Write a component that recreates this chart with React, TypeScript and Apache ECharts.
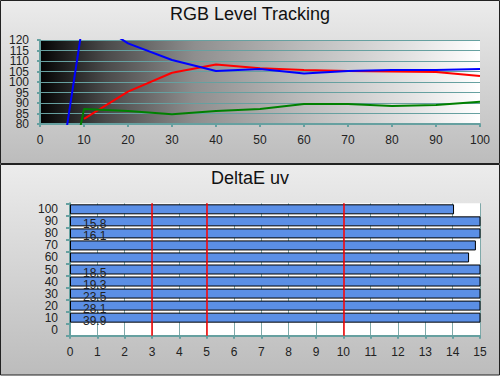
import React, { useEffect, useRef } from 'react';
import * as echarts from 'echarts';

// RGB Level Tracking data
const rgbX = [0, 10, 20, 30, 40, 50, 60, 70, 80, 90, 100];
const redVals = [null, 82.4, 95.4, 104.4, 108.3, 106.5, 105.7, 105.2, 105.0, 104.8, 102.9];
const greenVals = [-15, 87.1, 86.2, 84.6, 86.2, 87.1, 89.5, 89.5, 88.6, 89.0, 90.6];
const blueVals = [-5, 132, 118.4, 110.5, 105.2, 106.2, 104.1, 105.2, 105.7, 105.7, 106.2];
const rgbTicksEven = [80, 90, 100, 110, 120];
const rgbTicksOdd = [85, 95, 105, 115];

// DeltaE uv data
const deltaCats = ['0', '10', '20', '30', '40', '50', '60', '70', '80', '90', '100'];
const deltaVals = [null, 39.9, 28.1, 23.5, 19.3, 18.5, 14.6, 14.85, 16.1, 15.8, 14.05];
const refLines = [3, 5, 10];

const TEAL = '#66a0a0';
const FONT = '"Liberation Sans", Arial, sans-serif';

export default function App() {
  const ref = useRef<HTMLDivElement>(null);
  useEffect(() => {
    document.body.style.margin = '0';
    const chart = echarts.init(ref.current!, null, { renderer: 'svg' });
    const pair = (vals: (number | null)[]) => rgbX.map((x, i) => [x, vals[i] === null ? '-' : vals[i]]);
    const panelGrad = () =>
      new echarts.graphic.LinearGradient(0, 0, 0, 1, [
        { offset: 0, color: '#ececec' },
        { offset: 1, color: '#bcbcbc' },
      ]);
    const topYLabel = { fontSize: 12, lineHeight: 10, color: '#222', margin: 11, fontFamily: FONT, showMinLabel: true, showMaxLabel: true, hideOverlap: false };
    chart.setOption({
      animation: false,
      textStyle: { fontFamily: FONT },
      graphic: [
        { type: 'rect', z: -10, shape: { x: 0.5, y: 0.5, width: 499, height: 163 }, style: { fill: panelGrad(), stroke: '#222', lineWidth: 1 } },
        { type: 'rect', z: -10, shape: { x: 0.5, y: 164.5, width: 499, height: 210.5 }, style: { fill: panelGrad(), stroke: '#222', lineWidth: 1 } },
        { type: 'text', x: 250, y: 14, style: { text: 'RGB Level Tracking', fontSize: 18, fontFamily: FONT, fill: '#111', align: 'center', verticalAlign: 'middle' } },
        { type: 'text', x: 250, y: 178, style: { text: 'DeltaE uv', fontSize: 18, fontFamily: FONT, fill: '#111', align: 'center', verticalAlign: 'middle' } },
      ],
      grid: [
        {
          left: 40, top: 40, width: 440, height: 84, show: true, borderWidth: 0,
          backgroundColor: new echarts.graphic.LinearGradient(0, 0, 1, 0, [
            { offset: 0, color: '#030303' },
            { offset: 0.15, color: '#4a4a4a' },
            { offset: 0.35, color: '#8e8e8e' },
            { offset: 0.6, color: '#bcbcbc' },
            { offset: 0.85, color: '#e4e4e4' },
            { offset: 1, color: '#ffffff' },
          ]),
        },
        { left: 70, top: 203.3, width: 410, height: 132.4, show: true, borderWidth: 0, backgroundColor: '#ffffff' },
      ],
      xAxis: [
        {
          gridIndex: 0, type: 'value', min: 0, max: 100, interval: 10,
          axisLine: { show: true, lineStyle: { color: TEAL, width: 2 } },
          axisTick: { show: true, length: 3, lineStyle: { color: TEAL, width: 2 } },
          axisLabel: { fontSize: 12, color: '#222', margin: 10, fontFamily: FONT },
          splitLine: { show: false },
        },
        {
          gridIndex: 1, type: 'value', min: 0, max: 15, interval: 1,
          axisLine: { show: true, lineStyle: { color: TEAL, width: 2 } },
          axisTick: { show: true, length: 3, lineStyle: { color: TEAL, width: 2 } },
          axisLabel: { fontSize: 12, color: '#222', margin: 10, fontFamily: FONT },
          splitLine: { show: true, lineStyle: { color: '#7fa9a9', width: 1 } },
        },
      ],
      yAxis: [
        {
          gridIndex: 0, type: 'value', min: 80, max: 120, interval: 5,
          axisLine: { show: true, lineStyle: { color: TEAL, width: 2 } },
          axisTick: { show: true, length: 3, lineStyle: { color: TEAL, width: 2 } },
          axisLabel: { ...topYLabel, customValues: rgbTicksEven },
          splitLine: { show: true, lineStyle: { color: TEAL, width: 1 } },
        },
        {
          gridIndex: 1, type: 'category', data: deltaCats,
          axisLine: { show: true, lineStyle: { color: TEAL, width: 2 } },
          axisTick: { show: true, length: 4, lineStyle: { color: TEAL, width: 2 } },
          axisLabel: { fontSize: 12, lineHeight: 10, color: '#222', margin: 12, interval: 0, fontFamily: FONT },
          splitLine: { show: false },
        },
        {
          gridIndex: 0, type: 'value', min: 80, max: 120, interval: 5, position: 'left',
          axisLine: { show: false }, axisTick: { show: false }, splitLine: { show: false },
          axisLabel: { ...topYLabel, customValues: rgbTicksOdd },
        },
      ],
      series: [
        { type: 'line', xAxisIndex: 0, yAxisIndex: 0, data: pair(redVals), showSymbol: false, symbol: 'none', lineStyle: { color: '#ff0000', width: 2 }, itemStyle: { color: '#ff0000' } },
        { type: 'line', xAxisIndex: 0, yAxisIndex: 0, data: pair(greenVals), showSymbol: false, symbol: 'none', lineStyle: { color: '#008000', width: 2 }, itemStyle: { color: '#008000' } },
        { type: 'line', xAxisIndex: 0, yAxisIndex: 0, data: pair(blueVals), showSymbol: false, symbol: 'none', lineStyle: { color: '#0000ff', width: 2 }, itemStyle: { color: '#0000ff' } },
        {
          type: 'bar', xAxisIndex: 1, yAxisIndex: 1, barWidth: 10, clip: true,
          data: deltaVals.map((v) => (v === null ? '-' : v)),
          itemStyle: { color: '#5b8fe6', borderColor: '#000', borderWidth: 1 },
          label: {
            show: true, position: [13, 8], verticalAlign: 'middle', align: 'left',
            fontSize: 12, color: '#222', fontFamily: FONT,
            formatter: (p: any) => (typeof p.value === 'number' && p.value > 15 ? p.value.toFixed(1) : ''),
          },
          markLine: {
            silent: true, symbol: ['none', 'none'], label: { show: false },
            emphasis: { disabled: true },
            lineStyle: { color: '#ff0000', width: 1.5, type: 'solid', opacity: 1 },
            data: refLines.map((x) => ({ xAxis: x, lineStyle: { color: '#ff0000' } })),
          },
        },
      ],
    });
    return () => chart.dispose();
  }, []);
  return <div ref={ref} style={{ width: 500, height: 376 }} />;
}
